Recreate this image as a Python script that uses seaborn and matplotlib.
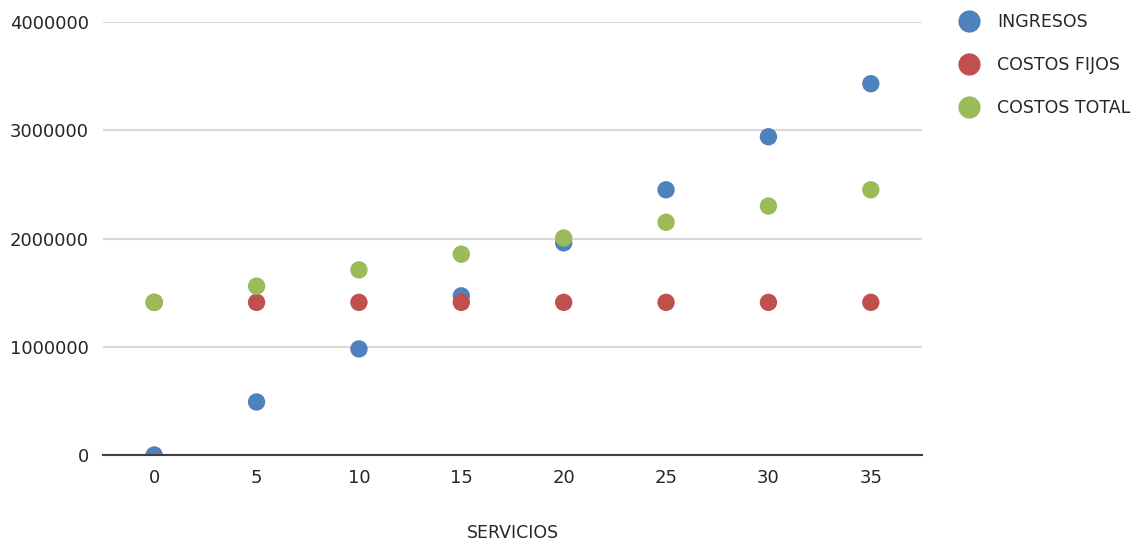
import matplotlib
matplotlib.use("Agg")
import matplotlib.pyplot as plt
from matplotlib.lines import Line2D
import pandas as pd
import seaborn as sns

# Break-even data: number of services vs. revenue and costs
servicios = [0, 5, 10, 15, 20, 25, 30, 35]
ingresos = [0, 490000, 980000, 1470000, 1960000, 2450000, 2940000, 3430000]
costos_fijos = [1410000, 1410000, 1410000, 1410000, 1410000, 1410000, 1410000, 1410000]
costos_total = [1410000, 1560000, 1710000, 1855000, 2005000, 2150000, 2300000, 2450000]

series_names = ["INGRESOS", "COSTOS FIJOS", "COSTOS TOTAL"]
colors = ["#4F81BD", "#C0504D", "#9BBB59"]
y_ticks = [0, 1000000, 2000000, 3000000, 4000000]

df = pd.concat(
    [
        pd.DataFrame({"servicios": [str(s) for s in servicios], "valor": vals, "serie": name})
        for name, vals in zip(series_names, [ingresos, costos_fijos, costos_total])
    ],
    ignore_index=True,
)

sns.set_theme(style="white")
plt.rcParams["font.family"] = ["DejaVu Sans"]

fig = plt.figure(figsize=(11.4, 5.48), dpi=100)
ax = fig.add_axes([103 / 1140, 93 / 548, 819 / 1140, 433 / 548])

sns.stripplot(
    data=df, x="servicios", y="valor", hue="serie",
    order=[str(s) for s in servicios], hue_order=series_names,
    palette=colors, jitter=False, dodge=False, size=12.5,
    linewidth=0, legend=False, ax=ax, zorder=3,
)

ax.set_xlim(-0.5, len(servicios) - 0.5)
ax.set_ylim(0, 4000000)
ax.set_yticks(y_ticks)
ax.set_yticklabels([str(v) for v in y_ticks])
ax.yaxis.grid(True, color="#D9D9D9", linewidth=1.5, zorder=0)
ax.xaxis.grid(False)

for side in ["top", "right", "left"]:
    ax.spines[side].set_visible(False)
ax.spines["bottom"].set_color("#404040")
ax.spines["bottom"].set_linewidth(1.5)
ax.spines["bottom"].set_zorder(4)

ax.tick_params(axis="x", length=0, pad=10, labelsize=13)
ax.tick_params(axis="y", length=0, pad=10, labelsize=13)
for lbl in ax.get_xticklabels() + ax.get_yticklabels():
    lbl.set_color("#262626")

ax.set_ylabel("")
ax.set_xlabel("SERVICIOS", fontsize=12.5, color="#262626")
ax.xaxis.set_label_coords(0.5, -0.18)
ax.xaxis.label.set_va("center")

handles = [
    Line2D([0], [0], marker="o", linestyle="none", markersize=16,
           markerfacecolor=c, markeredgewidth=0)
    for c in colors
]
fig.legend(
    handles, series_names, loc="upper left",
    bbox_to_anchor=(952 / 1140, 1 - 13 / 548),
    frameon=False, fontsize=12.5, labelspacing=1.45,
    handletextpad=0.6, borderaxespad=0, borderpad=0,
    labelcolor="#262626",
)

fig.savefig("out.png", dpi=100, facecolor="white")
